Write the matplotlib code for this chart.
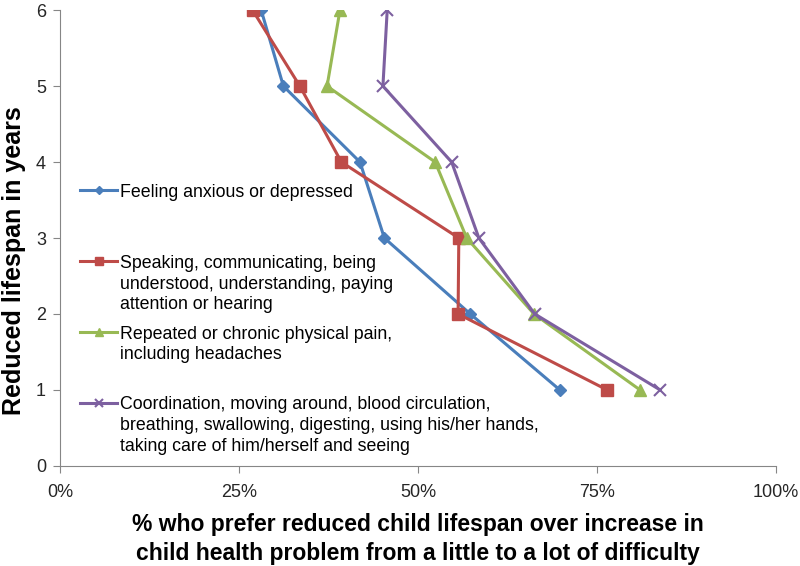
import matplotlib.pyplot as plt
from matplotlib.ticker import PercentFormatter

plt.rcParams['font.family'] = ['Liberation Sans', 'DejaVu Sans']

# reduced lifespan (years) on y, share preferring it on x
years = [6, 5, 4, 3, 2, 1]
anxious = [0.281, 0.312, 0.419, 0.453, 0.573, 0.698]
speaking = [0.269, 0.335, 0.393, 0.557, 0.556, 0.764]
pain = [0.391, 0.373, 0.524, 0.568, 0.662, 0.810]
coordination = [0.457, 0.451, 0.547, 0.585, 0.663, 0.838]

# trailing blank lines keep the uneven spacing of the original legend
labels = ['Feeling anxious or depressed\n\n',
          'Speaking, communicating, being\nunderstood, understanding, paying\nattention or hearing',
          'Repeated or chronic physical pain,\nincluding headaches\n',
          'Coordination, moving around, blood circulation,\nbreathing, swallowing, digesting, using his/her hands,\ntaking care of him/herself and seeing']

fig, ax = plt.subplots(figsize=(8, 5.66), dpi=100)
fig.subplots_adjust(left=0.075, right=0.97, top=0.982, bottom=0.177)

ax.plot(anxious, years, color='#4A7EBB', lw=2.2, marker='D', ms=6, label=labels[0])
ax.plot(speaking, years, color='#BE4B48', lw=2.2, marker='s', ms=8.5, label=labels[1])
ax.plot(pain, years, color='#98B954', lw=2.2, marker='^', ms=9, label=labels[2])
ax.plot(coordination, years, color='#7D60A0', lw=2.2, marker='x', ms=9, mew=1.5, label=labels[3])

ax.set_xlim(0, 1)
ax.set_ylim(0, 6)
ax.set_xticks([0, 0.25, 0.5, 0.75, 1.0])
ax.xaxis.set_major_formatter(PercentFormatter(1.0, decimals=0))
ax.set_yticks(range(7))
ax.tick_params(labelsize=13, color='#868686', length=5, labelcolor='#262626')
ax.tick_params(axis='x', pad=8)
ax.tick_params(axis='y', pad=5)
for s in ['top', 'right']:
    ax.spines[s].set_visible(False)
for s in ['left', 'bottom']:
    ax.spines[s].set_color('#868686')

ax.set_xlabel('% who prefer reduced child lifespan over increase in\nchild health problem from a little to a lot of difficulty',
              fontsize=16.5, fontweight='bold', labelpad=9, linespacing=1.3)
ax.set_ylabel('Reduced lifespan in years', fontsize=18, fontweight='bold')
ax.yaxis.set_label_coords(-0.048, 0.45)

leg = ax.legend(loc='upper left', bbox_to_anchor=(0.018, 0.634), borderaxespad=0,
                frameon=False, fontsize=12.8, labelspacing=0.69, handlelength=2.1,
                handletextpad=0.17, markerscale=0.7)
for t in leg.get_texts():
    t.set_linespacing(1.29)
# put each handle next to the first line of its label
for col in leg._legend_handle_box.get_children():
    for item in col.get_children():
        item.align = 'top'

fig.savefig('out.png')
